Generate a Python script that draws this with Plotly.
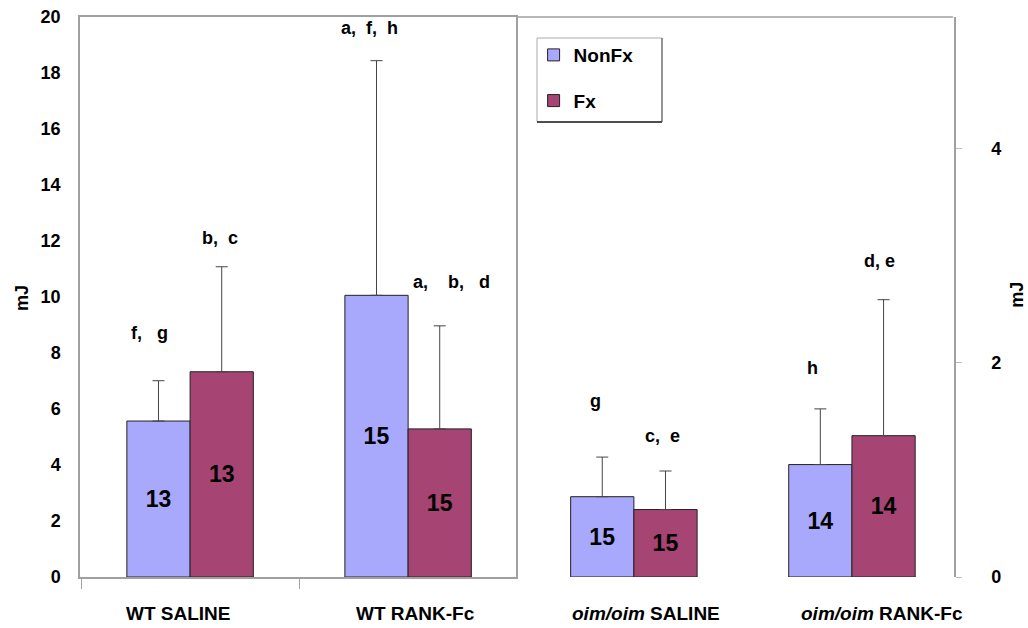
import plotly.graph_objects as go

# ---- data ----
wt_groups = ["WT SALINE", "WT RANK-Fc"]
oim_groups = ["oim/oim SALINE", "oim/oim RANK-Fc"]
wt_labels = ["<b>WT SALINE</b>", "<b>WT RANK-Fc</b>"]
oim_labels = ["<b><i>oim/oim</i> SALINE</b>", "<b><i>oim/oim</i> RANK-Fc</b>"]

wt_nonfx = [5.57, 10.06]
wt_nonfx_err = [1.44, 8.38]
wt_fx = [7.33, 5.29]
wt_fx_err = [3.75, 3.68]
wt_nonfx_n = ["13", "15"]
wt_fx_n = ["13", "15"]

oim_nonfx = [0.75, 1.05]
oim_nonfx_err = [0.37, 0.52]
oim_fx = [0.63, 1.32]
oim_fx_err = [0.36, 1.27]
oim_nonfx_n = ["15", "14"]
oim_fx_n = ["15", "14"]

# significance letters: (x position in category units, y in data units, text)
wt_letters_x = [-0.184, 0.138, 0.825, 1.2]
wt_letters_y = [8.7, 12.1, 19.6, 10.55]
wt_letters = ["f,   g", "b,  c", "a,  f,  h", "a,    b,   d"]
oim_letters_x = [-0.177, 0.129, 0.817, 1.128]
oim_letters_y = [1.64, 1.32, 1.95, 2.95]
oim_letters = ["g", "c,  e", "h", "d, e"]

# horizontal placement of the group labels (category units)
wt_label_pos = [-0.053, 1.032]
oim_label_pos = [0.055, 1.138]

C_NONFX = "#a8a8fc"
C_FX = "#a64474"
FONT = "Liberation Sans, Arial, sans-serif"

fig = go.Figure()


def add_bar(x, y, err, n, name, color, xa, ya, show, group):
    fig.add_trace(go.Bar(
        x=x, y=y, name=name, text=n, textposition="inside",
        insidetextanchor="middle", textangle=0, constraintext="none",
        insidetextfont=dict(family=FONT, size=23, color="black", weight="bold"),
        marker=dict(color=color, line=dict(color="#222222", width=1)),
        error_y=dict(type="data", symmetric=False, array=err,
                     arrayminus=[0] * len(err), color="#444444",
                     thickness=1, width=6),
        xaxis=xa, yaxis=ya, showlegend=show, legendgroup=group,
    ))


add_bar(wt_groups, wt_nonfx, wt_nonfx_err, wt_nonfx_n, "NonFx", C_NONFX, "x", "y", True, "a")
add_bar(wt_groups, wt_fx, wt_fx_err, wt_fx_n, "Fx", C_FX, "x", "y", True, "b")
add_bar(oim_groups, oim_nonfx, oim_nonfx_err, oim_nonfx_n, "NonFx", C_NONFX, "x2", "y2", False, "a")
add_bar(oim_groups, oim_fx, oim_fx_err, oim_fx_n, "Fx", C_FX, "x2", "y2", False, "b")

LFONT = dict(family=FONT, size=18, color="black", weight="bold")
CFONT = dict(family=FONT, size=19, color="black")
annos = []
for x, y, t in zip(wt_letters_x, wt_letters_y, wt_letters):
    annos.append(dict(x=x, y=y, xref="x", yref="y", text=t, showarrow=False, font=LFONT))
for x, y, t in zip(oim_letters_x, oim_letters_y, oim_letters):
    annos.append(dict(x=x, y=y, xref="x2", yref="y2", text=t, showarrow=False, font=LFONT))
for x, t in zip(wt_label_pos, wt_labels):
    annos.append(dict(x=x, y=-0.066, xref="x", yref="paper", text=t, showarrow=False,
                      xanchor="center", yanchor="middle", font=CFONT))
for x, t in zip(oim_label_pos, oim_labels):
    annos.append(dict(x=x, y=-0.066, xref="x2", yref="paper", text=t, showarrow=False,
                      xanchor="center", yanchor="middle", font=CFONT))
annos.append(dict(x=-0.0664, y=0.498, xref="paper", yref="paper", text="mJ",
                  xanchor="center", yanchor="middle",
                  textangle=-90, showarrow=False, font=LFONT))
annos.append(dict(x=1.072, y=0.504, xref="paper", yref="paper", text="mJ",
                  xanchor="center", yanchor="middle",
                  textangle=-90, showarrow=False, font=LFONT))

AX = "#a0a0a0"
lx0, lx1, ly0, ly1 = 0.5229, 0.6659, 0.8125, 0.9625
fig.update_layout(
    width=1028, height=628,
    margin=dict(l=80, r=74, t=17, b=51, autoexpand=False),
    paper_bgcolor="white", plot_bgcolor="white",
    barmode="group", bargap=0.42, bargroupgap=0,
    font=dict(family=FONT, color="black"),
    annotations=annos,
    legend=dict(x=0.519, y=0.966, xanchor="left", yanchor="top",
                borderwidth=0, bgcolor="rgba(0,0,0,0)",
                traceorder="grouped", tracegroupgap=18,
                font=dict(family=FONT, size=19, color="black", weight="bold"),
                itemwidth=30),
    xaxis=dict(domain=[0, 0.4989], range=[-0.505, 1.495], type="category",
               showticklabels=False,
               showline=True, linecolor=AX, linewidth=1.5, mirror=True,
               ticks="outside", tickson="boundaries", ticklen=10, tickcolor=AX,
               showgrid=False, zeroline=False),
    yaxis=dict(range=[0, 20], dtick=2, showline=True, linecolor=AX, linewidth=1.5,
               mirror=True, ticks="", showgrid=False, zeroline=False,
               ticklabelstandoff=14, ticklabeloverflow="allow",
               tickfont=dict(family=FONT, size=18, color="black", weight="bold")),
    xaxis2=dict(domain=[0.501, 1], range=[-0.532, 1.468], type="category",
                anchor="y2", showticklabels=False,
                showline=False, ticks="",
                showgrid=False, zeroline=False),
    yaxis2=dict(range=[0, 5.23], tickvals=[0, 2, 4], anchor="x2", side="right",
                showline=True, linecolor=AX, linewidth=1.5, ticks="outside",
                ticklen=6, tickcolor="#bbbbbb", ticklabelstandoff=26,
                ticklabeloverflow="allow",
                showgrid=False, zeroline=False,
                tickfont=dict(family=FONT, size=18, color="black", weight="bold")),
    shapes=[
        dict(type="line", xref="paper", yref="paper", x0=0.501, x1=0.999,
             y0=1.0, y1=1.0, line=dict(color=AX, width=1.5)),
        dict(type="rect", xref="paper", yref="paper", x0=lx0, x1=lx1,
             y0=ly0, y1=ly1, line=dict(color="#aaaaaa", width=1)),
        dict(type="line", xref="paper", yref="paper", x0=lx0, x1=lx1,
             y0=ly0, y1=ly0, line=dict(color="#222222", width=1.5)),
        dict(type="line", xref="paper", yref="paper", x0=lx1, x1=lx1,
             y0=ly0, y1=ly1, line=dict(color="#555555", width=1)),
    ],
)

fig.write_html("out.html", config={"displayModeBar": False},
               post_script="document.body.style.margin='0px';")
